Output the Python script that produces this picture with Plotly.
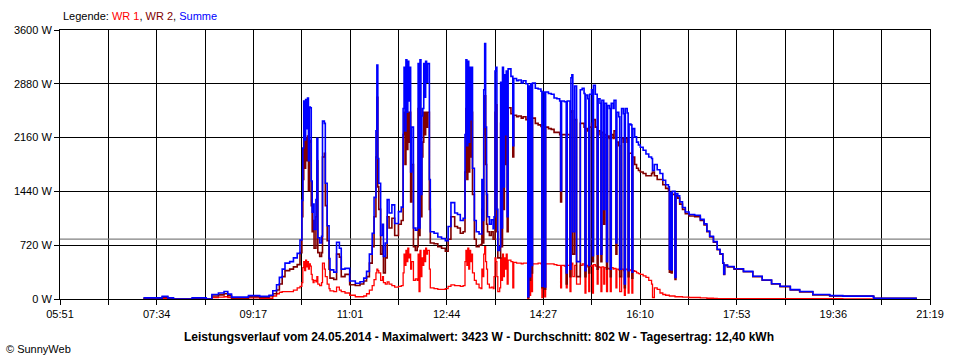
import plotly.graph_objects as go

# ---------------- data ----------------
times = [
    "07:20","07:40","07:46","07:52","08:12","08:27","08:33","08:40","08:46","08:50",
    "08:54","09:12","09:24","09:34","09:38","09:42","09:45","09:48","09:51","09:56",
    "10:00","10:04","10:07",
    "10:09","10:10","10:11","10:12","10:13","10:14","10:15","10:16","10:17","10:18",
    "10:19","10:20","10:21","10:22","10:24","10:25","10:26","10:28","10:30","10:31",
    "10:33","10:34","10:36","10:38","10:39","10:43","10:46","10:49","10:51","10:55",
    "11:00","11:06","11:11","11:15","11:18","11:21","11:24",
    "11:26","11:28","11:29","11:30","11:31","11:33","11:35","11:36","11:38","11:40",
    "11:42","11:45","11:48","11:52","11:55","11:57","11:58","11:59","12:00","12:01",
    "12:02","12:03","12:04","12:05","12:06","12:08","12:10","12:12","12:13","12:14",
    "12:15","12:16","12:17","12:18","12:19","12:20","12:21","12:22","12:23","12:25",
    "12:26","12:30","12:34","12:38","12:42","12:45","12:48","12:52","12:55","12:58",
    "13:01",
    "13:03","13:04","13:05","13:06","13:07","13:08","13:09","13:10","13:11","13:13",
    "13:15","13:18","13:20","13:21","13:22","13:23","13:24","13:25","13:26","13:27",
    "13:29","13:31","13:33","13:34","13:35","13:36","13:37","13:38","13:40","13:41",
    "13:42","13:43","13:44","13:45","13:46","13:47","13:48",
    "13:49","13:52","13:54","13:55","13:58","14:00","14:03","14:05","14:08","14:10",
    "14:11","14:12","14:13","14:14","14:15","14:18","14:21","14:24","14:25","14:26",
    "14:28","14:29","14:32","14:35","14:38","14:41","14:44","14:45","14:46","14:49",
    "14:51","14:52","14:55","14:56","14:57","14:58","15:00","15:02","15:06","15:08",
    "15:10","15:11","15:12","15:14","15:15","15:16","15:18","15:19","15:20","15:22",
    "15:24","15:25","15:27","15:28","15:29","15:31","15:32","15:34","15:35","15:37",
    "15:38","15:39","15:41","15:42","15:44","15:45","15:47","15:48","15:50","15:52",
    "15:53","15:54","15:56","15:57","15:58","16:00","16:01","16:02","16:04","16:06",
    "16:08","16:10",
    "16:13","16:16","16:19","16:22","16:23","16:25","16:28","16:31","16:34","16:37",
    "16:40","16:41","16:42","16:43","16:44","16:47","16:48","16:50","16:52","16:55",
    "16:58","17:02","17:08","17:14","17:18","17:21","17:24","17:28","17:32","17:35",
    "17:38","17:39","17:40","17:43","17:50","18:00","18:10","18:20","18:30","18:39",
    "18:50","19:00","19:14","19:32","19:46","20:18","20:19","21:05",
]

wr1 = [
    5,10,5,0,5,0,20,25,30,20,
    10,15,10,10,40,70,90,100,100,100,
    120,150,170,
    220,420,500,380,520,430,500,400,470,440,
    330,260,220,250,230,300,200,180,220,480,
    400,300,200,140,110,100,160,120,100,80,
    50,30,30,40,70,120,180,
    260,350,400,380,350,250,300,220,200,230,
    200,180,160,170,180,350,600,450,650,500,
    680,550,600,400,500,250,270,250,600,100,
    650,300,550,450,650,500,680,600,650,400,
    150,140,130,130,140,170,190,180,180,170,
    180,
    500,650,450,680,400,650,500,600,350,250,
    200,150,140,400,300,600,700,500,400,200,
    150,160,140,300,550,500,300,100,150,550,
    250,600,300,550,400,600,200,
    520,500,150,490,480,480,470,480,480,10,
    470,50,480,100,470,470,480,470,20,470,
    30,470,470,470,460,450,450,150,450,440,
    150,450,100,460,480,300,450,200,450,470,
    450,80,450,430,100,440,450,80,460,440,
    200,430,420,100,430,200,420,100,410,400,
    100,420,400,410,150,400,390,100,400,380,
    50,400,390,80,390,380,80,380,370,350,
    340,330,
    310,290,250,200,20,150,130,80,60,50,
    50,40,40,40,40,30,30,30,30,25,
    25,20,20,15,15,10,10,8,5,5,
    5,5,5,5,5,5,5,5,5,5,
    5,5,5,5,0,0,0,0,
]

wr2 = [
    10,25,10,0,10,0,40,55,70,45,
    15,30,25,40,70,120,200,300,380,400,
    430,460,620,
    1100,1600,2150,1750,2150,1850,2180,1450,2100,2120,
    1250,900,1050,680,1100,1850,620,570,620,1900,
    1950,1250,780,400,280,260,600,560,300,330,
    190,180,200,240,300,480,700,
    1100,1900,2700,1500,1200,600,700,350,550,1100,
    950,1080,850,1000,1050,2200,2500,1800,2550,2000,
    2500,2100,2500,1300,1800,700,650,700,2550,850,
    2550,1100,1900,2100,2500,2200,2500,2300,2500,1200,
    750,740,700,680,640,800,1100,970,950,880,
    900,
    1700,2550,1600,2500,1700,2450,1900,2500,1400,800,
    700,720,730,1200,750,2200,2720,1800,1000,900,
    850,900,800,800,2500,2600,900,550,550,2350,
    700,2500,1200,2450,1800,2450,900,
    2560,2480,1900,2460,2440,2450,2420,2440,2400,20,
    2380,250,2400,350,2420,2350,2330,2310,150,2300,
    130,2300,2280,2270,2230,2230,2200,1300,2200,2200,
    200,2200,300,2500,2520,600,2400,300,2350,2350,
    2300,300,2280,2250,350,2300,2350,500,2400,2300,
    400,2250,2200,500,2230,1000,2200,400,2180,2150,
    300,2200,2150,2250,600,2100,2050,300,2150,2100,
    150,2150,2100,300,1950,1950,280,1900,1800,1750,
    1720,1700,
    1680,1650,1650,1680,1700,1650,1600,1600,1530,1480,
    1450,360,1380,350,1400,260,1380,1350,1270,1200,
    1140,1110,1100,1050,990,900,830,760,660,600,
    480,330,450,430,400,365,300,250,200,165,
    120,95,55,40,38,35,8,8,
]

summe = [
    15,35,15,0,15,0,60,80,100,65,
    25,45,35,50,110,190,290,400,480,500,
    550,610,790,
    1320,2020,2650,2130,2670,2280,2690,1850,2570,2560,
    1580,1160,1270,930,1330,2150,820,750,840,2380,
    2350,1550,980,540,390,360,760,680,400,410,
    240,210,230,280,370,600,880,
    1360,2250,3130,1880,1550,850,1000,570,750,1330,
    1150,1260,1010,1170,1230,2550,3100,2250,3200,2500,
    3180,2650,3100,1700,2300,950,920,950,3150,950,
    3200,1400,2450,2550,3150,2700,3180,2900,3150,1600,
    900,880,830,810,780,970,1290,1150,1130,1050,
    1080,
    2200,3200,2050,3180,2100,3100,2400,3100,1750,1050,
    900,870,870,1600,1050,2800,3420,2300,1400,1100,
    1000,1060,940,1100,3050,3100,1200,650,700,2900,
    950,3100,1500,3000,2200,3050,1100,
    3080,2980,2050,2950,2920,2930,2890,2920,2880,30,
    2850,300,2880,450,2890,2820,2810,2780,170,2770,
    160,2770,2750,2740,2690,2680,2650,1450,2650,2640,
    350,2650,400,2960,3000,900,2850,500,2800,2820,
    2750,380,2730,2680,450,2740,2800,580,2860,2740,
    600,2680,2620,600,2660,1200,2620,500,2590,2550,
    400,2620,2550,2660,750,2500,2440,400,2550,2480,
    200,2550,2490,380,2340,2330,360,2280,2170,2100,
    2060,2030,
    1990,1940,1900,1880,1720,1800,1730,1680,1590,1530,
    1500,400,1420,390,1440,290,1410,1380,1300,1225,
    1165,1130,1120,1065,1005,910,840,768,665,605,
    485,335,455,435,405,370,305,255,205,170,
    125,100,60,45,38,35,8,8,
]

average_w = 802
x_tick_labels = ["05:51", "07:34", "09:17", "11:01", "12:44",
                 "14:27", "16:10", "17:53", "19:36", "21:19"]
y_tick_values = [0, 720, 1440, 2160, 2880, 3600]
legend_names = ["WR 1", "WR 2", "Summe"]
colors = ["#ff0000", "#800000", "#0000ff"]
title_text = ("Leistungsverlauf vom 24.05.2014 - Maximalwert: 3423 W - "
              "Durchschnitt: 802 W - Tagesertrag: 12,40 kWh")

# ---------------- figure ----------------
def to_min(s):
    h, m = s.split(":")
    return int(h) * 60 + int(m)

x = [to_min(t) for t in times]
X0, X1 = to_min(x_tick_labels[0]), to_min(x_tick_labels[-1])
n = len(x_tick_labels) - 1
major = [X0 + i * (X1 - X0) / n for i in range(n + 1)]
minor = [X0 + (i + 0.5) * (X1 - X0) / n for i in range(n)]

W, H = 960, 360
ML, MR, MT, MB = 60, 30, 30, 61
PW, PH = W - ML - MR, H - MT - MB

def px(xp):
    return (xp - ML) / PW

def py(yp):
    return (H - MB - yp) / PH

fig = go.Figure()
fig.add_trace(go.Scatter(x=[X0, X1], y=[average_w, average_w], mode="lines",
                         line=dict(color="#808080", width=1.2), hoverinfo="skip"))
for name, ys, c, w in zip(legend_names, [wr1, wr2, summe], colors, [1.3, 1.6, 1.6]):
    fig.add_trace(go.Scatter(x=x, y=ys, name=name, mode="lines",
                             line=dict(color=c, width=w, shape="hv")))

axis_common = dict(showline=True, linecolor="black", linewidth=1, mirror=True,
                   showgrid=True, gridcolor="black", gridwidth=1, zeroline=False,
                   ticks="outside", ticklen=5, tickcolor="black",
                   tickfont=dict(family="Liberation Sans, Arial", size=11, color="black"))

fig.update_layout(
    width=W, height=H,
    margin=dict(l=ML, r=MR, t=MT, b=MB),
    paper_bgcolor="white", plot_bgcolor="white",
    showlegend=False,
    font=dict(family="Liberation Sans, Arial", size=11, color="black"),
    xaxis=dict(range=[X0, X1], tickmode="array", tickvals=major, ticktext=x_tick_labels,
               minor=dict(tickvals=minor, ticks="outside", ticklen=5, tickcolor="black",
                          showgrid=True, gridcolor="black", gridwidth=1),
               **axis_common),
    yaxis=dict(range=[0, 3600], tickmode="array", tickvals=y_tick_values,
               ticktext=[f"{v} W" for v in y_tick_values], **axis_common),
)

legend_html = ("Legende: " +
               ", ".join(f"<span style='color:{c}'>{nm}</span>" for nm, c in zip(legend_names, colors)))
fig.add_annotation(x=px(61), y=py(16), xref="paper", yref="paper", xanchor="left",
                   yanchor="middle", text=legend_html, showarrow=False,
                   font=dict(size=11, color="black"))
fig.add_annotation(x=px(479), y=py(337), xref="paper", yref="paper", xanchor="center",
                   yanchor="middle", text=f"<b>{title_text}</b>", showarrow=False,
                   font=dict(size=12, color="black"))
fig.add_annotation(x=px(4), y=py(349), xref="paper", yref="paper", xanchor="left",
                   yanchor="middle", text="© SunnyWeb", showarrow=False,
                   font=dict(size=11, color="black"))

fig.write_html("out.html", config={"displayModeBar": False},
               post_script="document.body.style.margin='0';document.body.style.padding='0';")
